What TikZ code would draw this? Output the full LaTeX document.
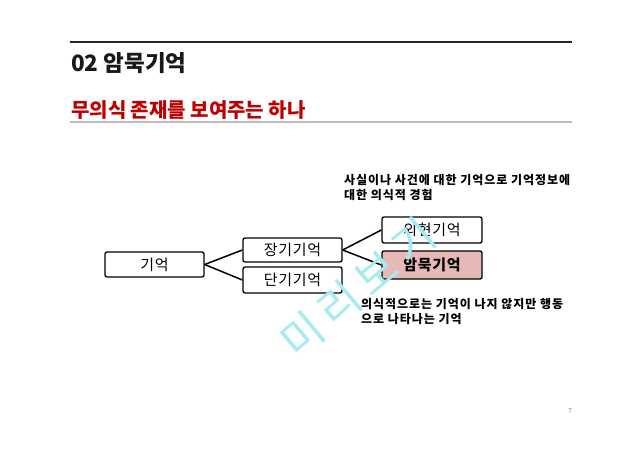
\documentclass[tikz,border=0pt]{standalone}
\usepackage{fontspec}
\setmainfont{Noto Sans CJK KR}
\newfontfamily\kr{Noto Sans CJK KR}
\newfontfamily\krwide[LetterSpace=8]{Noto Sans CJK KR}
\newfontfamily\krbox[LetterSpace=5]{Noto Sans CJK KR}
\definecolor{titlered}{RGB}{192,0,0}
\definecolor{pinkfill}{RGB}{230,184,183}
\definecolor{wmcyan}{RGB}{165,235,240}
\definecolor{rulegray}{RGB}{190,190,190}
\begin{document}
\begin{tikzpicture}[x=1pt,y=-1pt,
  box/.style={draw=black,line width=1.3pt,rounded corners=2pt,inner sep=0pt,font=\krbox\fontsize{15}{17}\selectfont},
  conn/.style={line width=1.5pt,black},
  note/.style={anchor=north west,inner sep=0pt,align=left,font=\krwide\bfseries\fontsize{12}{15}\selectfont}]
\useasboundingbox[fill=white] (0,0) rectangle (640,452);
% header rules
\draw[line width=2pt,black!85] (70,42) -- (572,42);
\draw[line width=1.5pt,rulegray] (70,122) -- (572,122);
\node[anchor=west,inner sep=0pt,font=\kr\bfseries\fontsize{22.5}{24}\selectfont,text=black!90] (title) at (71,63) {02 암묵기억};
\node[anchor=west,inner sep=0pt,font=\kr\bfseries\fontsize{20}{22}\selectfont,text=titlered] (sub) at (71,110) {무의식 존재를 보여주는 하나};
% boxes
\node[box,minimum width=99pt,minimum height=25pt] (mem) at (154.5,264.5) {기억};
\node[box,minimum width=99pt,minimum height=24pt] (long) at (292.5,250) {장기기억};
\node[box,minimum width=99pt,minimum height=26pt] (short) at (292.5,280) {단기기억};
\node[box,minimum width=100pt,minimum height=26pt] (expl) at (432,230) {외현기억};
\node[box,fill=pinkfill,minimum width=100pt,minimum height=28pt,font=\krbox\bfseries\fontsize{15}{17}\selectfont] (impl) at (432,265) {암묵기억};
% connectors
\coordinate (m1) at (mem.east);
\coordinate (l1) at (long.east);
\draw[conn] (m1) -- (long.west);
\draw[conn] (m1) -- (short.west);
\draw[conn] (l1) -- (expl.west);
\draw[conn] (l1) -- (impl.west);
% notes
\node[note] (n1) at (344,174) {사실이나 사건에 대한 기억으로 기억정보에\\대한 의식적 경험};
\node[note] (n2) at (361,298) {의식적으로는 기억이 나지 않지만 행동\\으로 나타나는 기억};
% page number
\node[font=\kr\fontsize{7}{8}\selectfont,text=black!45] (pg) at (570,411) {7};
% watermark
\node[rotate=40,font=\kr\fontsize{44}{46}\selectfont,text=wmcyan] (wm) at (358,288) {미\hspace{8pt}리\hspace{8pt}보\hspace{8pt}기};
\end{tikzpicture}
\end{document}
